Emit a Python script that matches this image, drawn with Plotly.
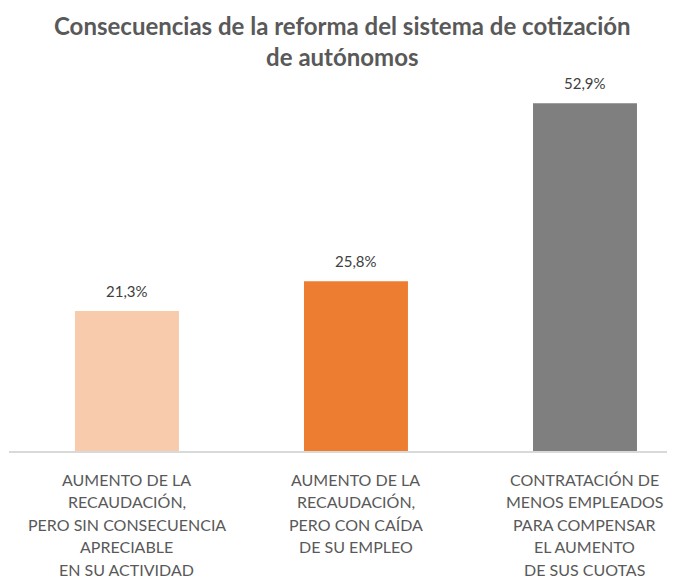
import plotly.graph_objects as go

category_lines = [
    ["AUMENTO DE LA", "RECAUDACIÓN,", "PERO SIN CONSECUENCIA", "APRECIABLE", "EN SU ACTIVIDAD"],
    ["AUMENTO DE LA", "RECAUDACIÓN,", "PERO CON CAÍDA", "DE SU EMPLEO"],
    ["CONTRATACIÓN DE", "MENOS EMPLEADOS", "PARA COMPENSAR", "EL AUMENTO", "DE SUS CUOTAS"],
]
values = [21.3, 25.8, 52.9]
labels = ["21,3%", "25,8%", "52,9%"]
colors = ["#F8CBAD", "#ED7D31", "#7F7F7F"]
title_text = "Consecuencias de la reforma del sistema de cotización<br>de autónomos"

FONT = "Lato"
idx = list(range(len(values)))

# page body has an 8px margin, so the figure is sized to fit the window
W, H = 667, 572
M_T, M_B = 82, 129
plot_h = H - M_T - M_B

fig = go.Figure()
fig.add_trace(go.Bar(
    x=idx, y=values, marker=dict(color=colors, line=dict(width=0)),
    width=0.454, hoverinfo="skip",
))
for i, v, t in zip(idx, values, labels):
    fig.add_annotation(x=i, y=v, text=t, showarrow=False, yanchor="bottom",
                       yshift=9, font=dict(family=FONT, size=15, color="#404040"))

for i, lines in zip(idx, category_lines):
    for j, line in enumerate(lines):
        fig.add_annotation(x=i, y=0, yref="paper", text=line, showarrow=False,
                           yanchor="middle", yshift=-(28 + 22.5 * j),
                           font=dict(family=FONT, size=16, color="#595959"))

fig.add_annotation(x=0.5, xref="paper", y=1 + (M_T - 1) / plot_h, yref="paper",
                   text=title_text, showarrow=False, xanchor="center", yanchor="top",
                   align="center",
                   font=dict(family=FONT, size=24, color="#595959", weight="bold"))

fig.update_layout(
    width=W, height=H,
    paper_bgcolor="white", plot_bgcolor="white",
    margin=dict(l=1, r=0, t=M_T, b=M_B),
    showlegend=False,
    xaxis=dict(range=[-0.515, 2.393], showticklabels=False,
               showgrid=False, zeroline=False, showline=True, linecolor="#D9D9D9", linewidth=1.5,
               ticks=""),
    yaxis=dict(range=[0, 54.9], visible=False, showgrid=False, zeroline=False),
)
fig.write_html("out.html")
